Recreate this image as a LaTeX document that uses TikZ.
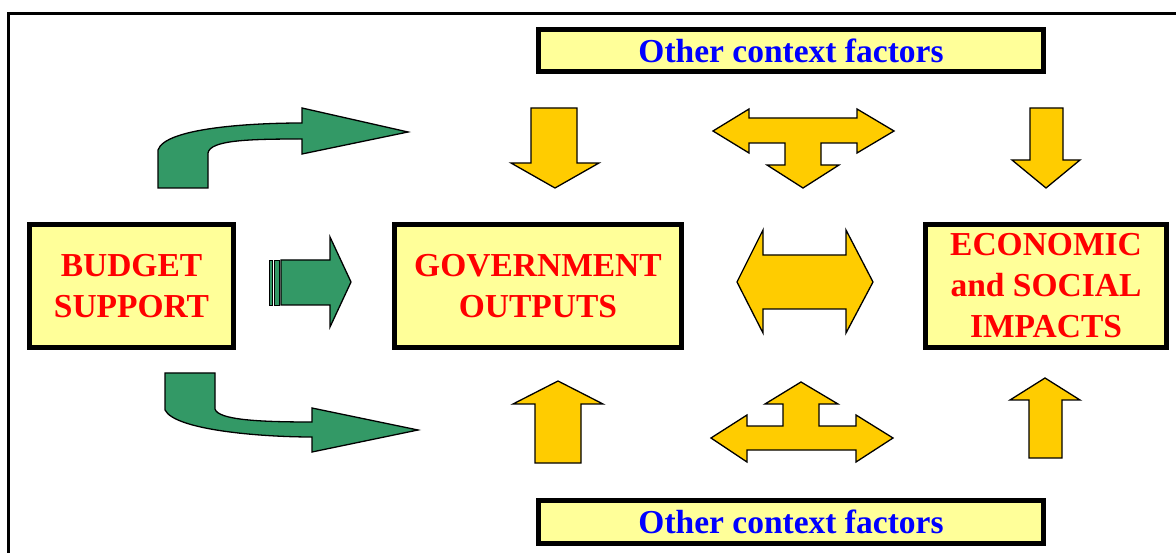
\documentclass[tikz,border=0pt]{standalone}
\usepackage{fontspec}
\setmainfont{Liberation Serif}
\definecolor{boxfill}{HTML}{FFFF99}
\definecolor{agreen}{HTML}{339966}
\definecolor{ayellow}{HTML}{FFCC00}
\definecolor{tred}{HTML}{FF0000}
\definecolor{tblue}{HTML}{0000FF}
\begin{document}
\begin{tikzpicture}[x=1pt,y=-1pt,
  mainbox/.style={draw=black,line width=5pt,fill=boxfill,inner sep=0pt,align=center,
    font=\fontsize{33.5}{41}\selectfont\bfseries,text=tred},
  ctxbox/.style={draw=black,line width=5pt,fill=boxfill,inner sep=0pt,
    font=\fontsize{33.5}{41}\selectfont\bfseries,text=tblue},
  garrow/.style={draw=black,line width=1.3pt,fill=agreen,line join=miter},
  gstripe/.style={draw=black,line width=0.8pt,fill=agreen},
  yarrow/.style={draw=black,line width=1.3pt,fill=ayellow,line join=miter}]
\useasboundingbox (0,0) rectangle (1176,553);
\clip (0,0) rectangle (1176,553);
\fill[white] (0,0) rectangle (1176,553);
\draw[line width=3pt] (8.5,13.5) rectangle (1200,600);

% boxes
\node[ctxbox,minimum width=505pt,minimum height=42pt] (ctxtop) at (791,51) {Other context factors};
\node[ctxbox,minimum width=505pt,minimum height=43pt] (ctxbot) at (791,522) {Other context factors};
\node[mainbox,minimum width=204pt,minimum height=123pt] (budget) at (131.5,286) {BUDGET\\SUPPORT};
\node[mainbox,minimum width=287pt,minimum height=123pt] (gov) at (538,286) {GOVERNMENT\\OUTPUTS};
\node[mainbox,minimum width=241pt,minimum height=123pt] (econ) at (1046,286) {ECONOMIC\\and SOCIAL\\IMPACTS};

% green arrows
\draw[garrow] (158,188) -- (158,150) .. controls (165,128) and (250,123) .. (302,123)
  -- (302,108) -- (408,132) -- (302,154) -- (302,139)
  .. controls (250,139) and (210,140) .. (208,153) -- (208,188) -- cycle;
\draw[garrow] (165,373) -- (165,410) .. controls (175,430) and (260,437) .. (312,437)
  -- (312,452) -- (418,430) -- (312,408) -- (312,422)
  .. controls (260,422) and (218,420) .. (215,409) -- (215,373) -- cycle;
\draw[gstripe] (269,260) rectangle (272.5,305);
\draw[gstripe] (274.5,260) rectangle (279,305);
\draw[garrow] (281,260) -- (330,260) -- (330,237) -- (351,282) -- (330,327) -- (330,305) -- (281,305) -- cycle;

% yellow single arrows
\draw[yarrow] (531,108) -- (577,108) -- (577,163) -- (599,163) -- (555,188) -- (511,163) -- (531,163) -- cycle;
\draw[yarrow] (1030,108) -- (1063,108) -- (1063,160) -- (1080,160) -- (1046,188) -- (1012,160) -- (1030,160) -- cycle;
\draw[yarrow] (535,463) -- (581,463) -- (581,404) -- (603,404) -- (558,381) -- (513,404) -- (535,404) -- cycle;
\draw[yarrow] (1029,458) -- (1062,458) -- (1062,400) -- (1080,400) -- (1045,378) -- (1010,400) -- (1029,400) -- cycle;

% yellow T arrows
\draw[yarrow] (713,131) -- (749,109) -- (749,118) -- (857,118) -- (857,109) -- (894,131)
  -- (857,153) -- (857,143) -- (821,143) -- (821,165) -- (839,165) -- (803,188)
  -- (767,165) -- (785,165) -- (785,143) -- (749,143) -- (749,153) -- cycle;
\draw[yarrow] (711,438) -- (747,415) -- (747,426) -- (783,426) -- (783,404) -- (765,404)
  -- (801,382) -- (838,404) -- (819,404) -- (819,426) -- (856,426) -- (856,415)
  -- (893,438) -- (856,462) -- (856,450) -- (747,450) -- (747,462) -- cycle;

% yellow double arrow
\draw[yarrow] (737,282) -- (763,230) -- (763,255) -- (846,255) -- (846,230) -- (873,282)
  -- (846,333) -- (846,309) -- (763,309) -- (763,333) -- cycle;
\end{tikzpicture}
\end{document}
